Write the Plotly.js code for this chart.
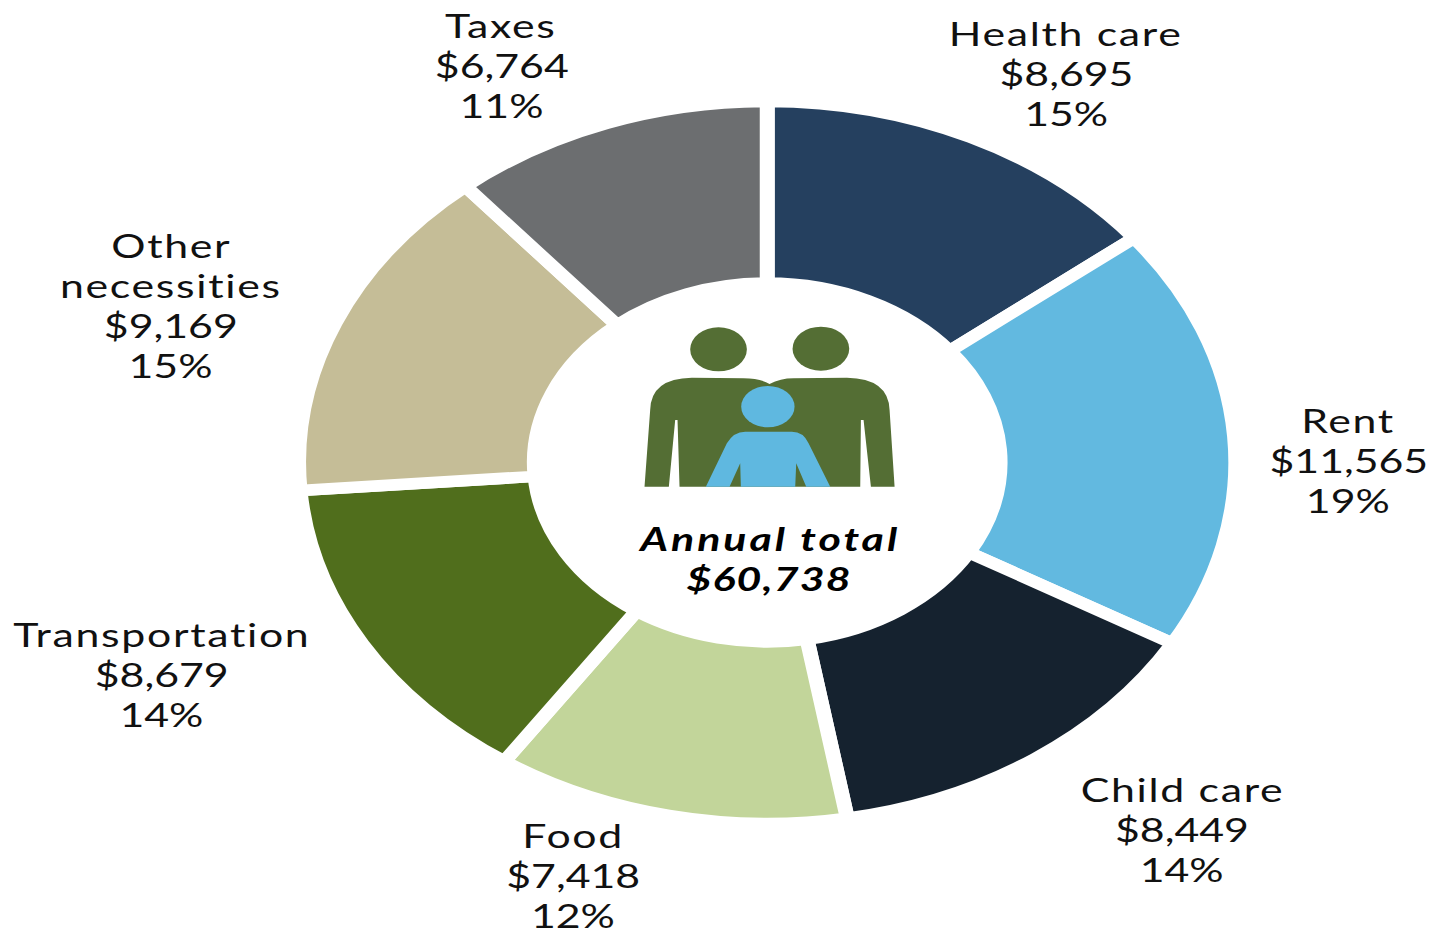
<!DOCTYPE html>
<html><head><meta charset="utf-8">
<script src="https://cdn.plot.ly/plotly-3.0.1.min.js"></script>
<style>html,body{margin:0;padding:0;background:#fff;overflow:hidden;width:1430px;height:936px}
#chart{width:1101.7px;height:936px;transform:scaleX(1.298);transform-origin:0 0}</style>
</head><body><div id="chart"></div>
<script>
const categories = ["Health care","Rent","Child care","Food","Transportation","Other<br>necessities","Taxes"];
const amounts = [8695,11565,8449,7418,8679,9169,6764];
const percents = [15,19,14,12,14,15,11];
const colors = ["#25405f","#62b9e0","#15222f","#c2d59a","#506e1c","#c5bd97","#6c6e70"];
const labelX = [1066,1348,1182,573,161,171,501];
const labelY = [73,460,829,875,674,305,65];
const totalLabel = "Annual total";
const totalValue = "$60,738";

const S = 1.298, W = 1430/S, H = 936;
const px = x => x/1430, py = y => 1 - y/936;
const R = 361, cx = 767/S, cy = 462.5;
const FONT = "Lato, 'Open Sans', sans-serif";
const PITCH = 40;

const trace = {
  type:"pie", values:amounts, labels:categories, sort:false, direction:"clockwise", rotation:0,
  hole:0.497, textinfo:"none", hoverinfo:"label+value+percent",
  marker:{colors:colors, line:{color:"#ffffff", width:11.5}},
  domain:{x:[(cx-R)/W,(cx+R)/W], y:[1-(cy+R)/H,1-(cy-R)/H]}
};

const fmt = n => "$" + n.toLocaleString("en-US");
const annotations = [];
categories.forEach((c,i)=>{
  const lines = [...c.split("<br>"), fmt(amounts[i]), percents[i]+"%"];
  lines.forEach((t,k)=>annotations.push({
    xref:"paper", yref:"paper", x:px(labelX[i]), y:py(labelY[i]+(k-(lines.length-1)/2)*PITCH),
    xanchor:"center", yanchor:"middle", showarrow:false, align:"center",
    font:{family:FONT,size:33,color:"#111"}, text:t
  }));
});
[totalLabel,totalValue].forEach((t,k)=>annotations.push({
  xref:"paper",yref:"paper",x:px(769),y:py(538+k*PITCH),xanchor:"center",yanchor:"middle",showarrow:false,
  font:{family:FONT,size:33,color:"#000",weight:700,style:"italic"},text:t
}));

// Icon outlines, in 3x crop units around (620,310)
const zx = v => px(620+v/3), zy = v => py(310+v/3);
function iconPath(segs){
  return segs.map(s=>{
    const pts=[]; for(let i=1;i<s.length;i+=2) pts.push(zx(s[i])+","+zy(s[i+1]));
    return s[0]+pts.join(" ");
  }).join(" ")+" Z";
}
const bodyParents = [["M",73,530],["L",90,300],["Q",92,205,215,203],["L",370,205],["Q",420,205,448,222],["Q",480,205,520,205],["L",680,203],["Q",805,205,808,300],["L",823,530],["L",752,530],["L",730,330],["L",722,330],["L",720,530],["L",178,530],["L",172,330],["L",165,330],["L",146,530]];
const bodyChild = [["M",257,530],["L",320,400],["Q",340,365,375,365],["L",515,365],["Q",550,365,565,400],["L",630,530],["L",558,530],["L",528,460],["L",525,530],["L",362,530],["L",360,460],["L",328,530]];
const head = (x,y,rx,ry,c)=>({type:"circle",xref:"paper",yref:"paper",x0:zx(x-rx),x1:zx(x+rx),y0:zy(y+ry),y1:zy(y-ry),fillcolor:c,line:{width:0}});
const GREEN="#546e34", BLUE="#5fb8e0";
const shapes = [
  {type:"path",xref:"paper",yref:"paper",path:iconPath(bodyParents),fillcolor:GREEN,line:{width:0}},
  head(295,118,85,66,GREEN), head(602,116,85,66,GREEN),
  {type:"path",xref:"paper",yref:"paper",path:iconPath(bodyChild),fillcolor:BLUE,line:{width:0}},
  head(443,290,80,62,BLUE)
];

Plotly.newPlot("chart",[trace],{
  width:W,height:H,margin:{l:0,r:0,t:0,b:0},showlegend:false,
  paper_bgcolor:"#fff",plot_bgcolor:"#fff",annotations,shapes
},{displayModeBar:false,staticPlot:true}).then(()=>{
  document.querySelectorAll("#chart .annotation-text").forEach(el=>{
    const t = el.textContent;
    let sp = /^[$0-9]/.test(t) ? 0 : 1.3;
    if (t === totalLabel) sp = 2.3;
    if (t === totalValue) sp = 0.9;
    el.style.letterSpacing = sp + "px";
  });
});
</script></body></html>
